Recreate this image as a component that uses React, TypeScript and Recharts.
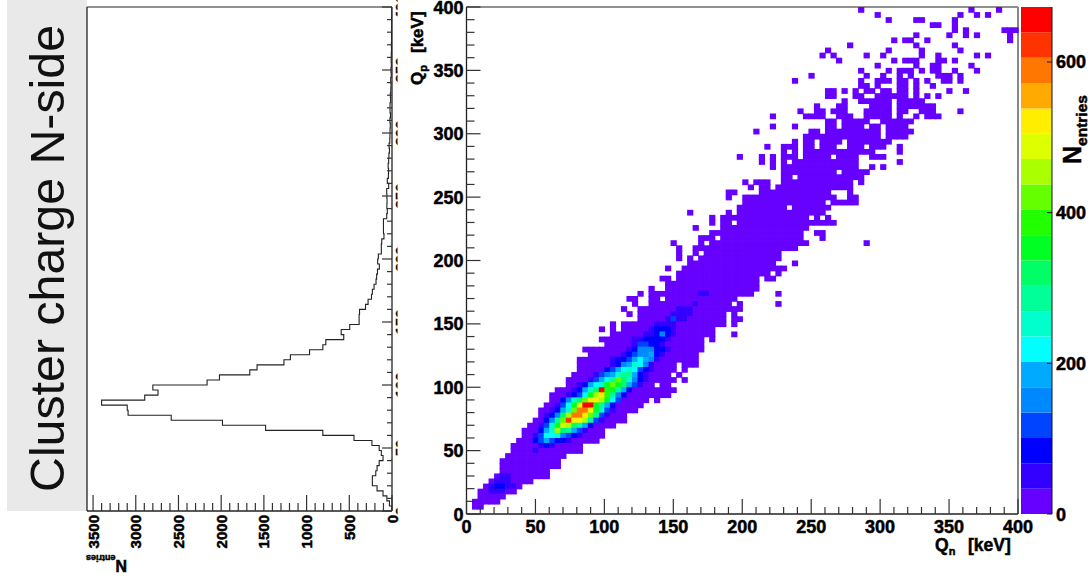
import React from 'react';
import { Bar, BarChart, ReferenceLine, Scatter, ScatterChart, XAxis, YAxis } from 'recharts';

const FONT = "'Liberation Sans', Arial, sans-serif";
const BIN_KEV = 4;
const COUNT_STEP = 33.65;

// ROOT rainbow palette, bottom of the colour bar first
const paletteColors = [
  '#6600ff', '#3300ff', '#0000ff', '#0044ff', '#0088ff', '#00aaff', '#00ffff', '#00ffcc', '#00ff99', '#00ff66',
  '#00ff22', '#22ff00', '#66ff00', '#aaff00', '#ddff00', '#ffee00', '#ffaa00', '#ff7700', '#ff3300', '#ff0000',
];
const paletteSteps = paletteColors.map(() => COUNT_STEP);

// occupied Qn bins for each Qp bin, top row (396-400 keV) first
const occupiedRows = [
  '71 91 96', '74 89 92 94', '76 81-82 88', '84-85 88', '88 90 97-99', '81 87 90 92 98', '77 79-80 83 98',
  '69 81 88', '65 76 82 89', '64 66 72 75 82 85 92 94', '67 77 79-81 85-86 88', '74 81 84-85 91',
  '71 76 78-80 82 84-85 88 92', '62 72 75 78 80 85-87 89', '59 71 74-76 78-79 81 83 86-87 89',
  '71-72 74 78-79 81 84', '65-66 68 70 72-73 75-76 78-79 81 87 90', '65-66 70-71 74-79 81 83 85',
  '68 71-76 78-82', '63 67-68 73-76 78-84', '60 63-64 66-68 72-76 78-79 82-84 89',
  '55 61-64 67-69 72-76 78 81 83-85', '65-66 68-72 75-80', '55 59 65-66 68-71 73-74 76-79',
  '52 62-63 65-74 76-80', '61-74 76-79', '59 61-62 64-67 69-76', '54 57-59 61-62 64-66 69-71 73-75 78',
  '57 59 61-73 78', '49 53 55 57-59 61-65 67-70 73-75', '53 55 57 59-70 78', '55 57-70 73 75',
  '57-66 68-72', '57-58 60-71', '50 52-54 57-69 71', '51 53-54 56-69', '47-48 53-65 69', '47 50-66 69-70',
  '50-64 66-70', '49-57 59-65', '40 47 49-64', '44 46-61 63 65', '44 46-47 49-66', '41 46-61', '44-60 63-64',
  '42-44 46-60 64', '37 42 44-61 72', '38 41-59', '38 41 43-56', '38 40 42-56', '40-55 59', '36 39-57',
  '38-54 56', '35-36 38-52 54-55', '36-52', '33 36-52', '31 33-51 56', '29-30 33-34 36-48', '30 33-47 49 56',
  '28 31-49', '29 31-46 48', '31-46 48-49', '26 28-46 48', '24 26 28-44', '26-44 48', '24-42 44', '25-42',
  '21-42', '22-41', '20-41', '20-37 39-41', '20-37 39', '19-36 38', '18-37 39', '18-33 35-36', '16-37',
  '15-36', '15-32 34', '14-31', '13-30', '13-28', '12-28', '11-26', '10-24', '10-24', '9-23', '8-20', '8-20',
  '7-17', '6-16', '6-16', '6-14', '5-14', '4-11', '3-9', '2-8', '2-6', '1-5', '1-2',
];

// [row from top, first Qn bin, entries...] where the count is above the first colour level
const coreRows = [
  [56, 42, 50, 50], [58, 41, 50], [59, 38, 50, 50, 50], [60, 37, 50, 50, 50, 50],
  [61, 36, 50, 115, 50, 50], [62, 34, 50, 50, 50, 50], [63, 33, 50, 85, 85, 85, 50],
  [64, 32, 50, 50, 85, 150, 85, 50], [65, 30, 50, 50, 85, 85, 85, 85, 50],
  [66, 30, 50, 115, 115, 85, 85, 50], [67, 29, 50, 85, 150, 150, 150, 85, 85, 50],
  [68, 28, 50, 85, 115, 150, 150, 185, 85, 50], [69, 26, 50, 85, 85, 115, 185, 220, 185, 150, 50],
  [70, 26, 50, 85, 150, 185, 250, 220, 150, 50], [71, 25, 85, 115, 185, 220, 250, 220, 115, 85, 50],
  [72, 23, 50, 115, 150, 185, 250, 285, 285, 185, 85, 50],
  [73, 22, 50, 115, 185, 220, 285, 420, 320, 250, 150, 85, 50],
  [74, 20, 50, 85, 185, 220, 250, 350, 420, 350, 320, 185, 115, 50],
  [75, 19, 50, 85, 185, 250, 320, 660, 385, 350, 285, 185, 85],
  [76, 18, 50, 85, 115, 220, 350, 455, 520, 385, 285, 150, 85],
  [77, 17, 85, 150, 250, 320, 420, 490, 520, 455, 350, 220, 115],
  [78, 16, 50, 115, 220, 350, 490, 660, 660, 350, 285, 185, 85],
  [79, 15, 50, 85, 185, 250, 420, 590, 590, 520, 350, 250, 115, 50],
  [80, 14, 50, 85, 150, 320, 455, 590, 590, 520, 420, 285, 115, 50],
  [81, 14, 85, 150, 285, 420, 620, 520, 520, 455, 285, 115, 50],
  [82, 13, 50, 115, 250, 350, 490, 455, 320, 285, 185, 85],
  [83, 13, 85, 185, 250, 455, 320, 285, 185, 115, 50],
  [84, 12, 50, 115, 220, 220, 250, 150, 115, 85, 50],
  [85, 12, 85, 115, 185, 115, 85, 85, 50], [86, 13, 50, 85, 50], [87, 12, 50],
  [92, 6, 50, 50], [93, 5, 50, 50, 50], [94, 4, 50, 85, 85, 50, 50], [95, 4, 50, 50, 50],
];

// Qp projection, entries per 4 keV bin from 0 keV upward
const histCounts = [
  0, 30, 60, 105, 175, 230, 230, 190, 175, 150, 105, 125, 150, 235, 445, 810, 1480, 1985, 2585, 3090,
  3100, 3400, 2895, 2740, 2800, 2165, 2020, 1665, 1580, 1265, 1190, 965, 810, 775, 565, 595, 495, 385, 385, 380,
  310, 280, 240, 230, 210, 187, 180, 170, 148, 168, 160, 125, 125, 120, 94, 100, 100, 100, 62, 55,
  60, 58, 60, 62, 39, 55, 42, 40, 45, 39, 36, 30, 34, 26, 24, 23, 20, 24, 18, 23,
  23, 16, 19, 14, 12, 15, 9, 12, 8, 10, 8, 6, 7, 4, 5, 4, 3, 4, 2, 2,
];

const qpTicks = [
  0, 10, 20, 30, 40, 50, 60, 70, 80, 90, 100, 110, 120, 130, 140, 150, 160, 170, 180, 190, 200,
  210, 220, 230, 240, 250, 260, 270, 280, 290, 300, 310, 320, 330, 340, 350, 360, 370, 380, 390, 400,
];
const entryTicks = [
  0, 100, 200, 300, 400, 500, 600, 700, 800, 900, 1000, 1100, 1200, 1300, 1400, 1500, 1600, 1700, 1800,
  1900, 2000, 2100, 2200, 2300, 2400, 2500, 2600, 2700, 2800, 2900, 3000, 3100, 3200, 3300, 3400, 3500,
];
const barTicks = [0, 200, 400, 600];

const parseBins = (row: string) =>
  row.split(' ').flatMap((part) => {
    const [from, to] = part.split('-').map(Number);
    const bins: number[] = [];
    for (let c = from; c <= (to ?? from); c++) bins.push(c);
    return bins;
  });

const coreLookup = new Map<string, number>();
coreRows.forEach(([t, start, ...counts]) => counts.forEach((n, i) => coreLookup.set(`${t}:${start + i}`, n)));

const cells = occupiedRows.flatMap((row, t) =>
  parseBins(row).map((col) => ({
    qn: (col + 0.5) * BIN_KEV,
    qp: (99 - t + 0.5) * BIN_KEV,
    entries: coreLookup.get(`${t}:${col}`) ?? 10,
  })),
);

const histOutline = histCounts.flatMap((n, i) => [
  { entries: n, qp: i * BIN_KEV },
  { entries: n, qp: (i + 1) * BIN_KEV },
]);

const colorFor = (entries: number) =>
  paletteColors[Math.min(paletteColors.length - 1, Math.floor(entries / COUNT_STEP))];

const CELL_W = 551.5 / 100;
const CELL_H = 507 / 100;

const CellRect = ({ cx, cy, payload }: any) => (
  <rect x={cx - CELL_W / 2} y={cy - CELL_H / 2} width={CELL_W + 0.7} height={CELL_H + 0.7} fill={colorFor(payload.entries)} />
);

// the source is a blurred screenshot, its labels are heavier than plain bold
const heavy = { fontFamily: FONT, fontWeight: 'bold', fill: '#000', stroke: '#000', strokeWidth: 0.5 } as const;

const MainXTick = ({ x, y, payload }: any) => {
  const major = payload.value % 50 === 0;
  return (
    <g>
      <line x1={x} x2={x} y1={y} y2={y - (major ? 15 : 7)} stroke="#333" strokeWidth={1.2} />
      {major && (
        <text x={x} y={y + 19} textAnchor="middle" fontSize={18} {...heavy}>
          {payload.value}
        </text>
      )}
    </g>
  );
};

const MainYTick = ({ x, y, payload }: any) => {
  const major = payload.value % 50 === 0;
  return (
    <g>
      <line x1={x} x2={x + (major ? 14 : 8)} y1={y} y2={y} stroke="#333" strokeWidth={1.2} />
      {major && (
        <text x={x - 3} y={y + 6.5} textAnchor="end" fontSize={18} {...heavy}>
          {payload.value}
        </text>
      )}
    </g>
  );
};

const HistXTick = ({ x, y, payload }: any) => {
  const major = payload.value % 500 === 0;
  return (
    <g>
      <line x1={x} x2={x} y1={y} y2={y - (major ? 16 : 8)} stroke="#333" strokeWidth={1.2} />
      {major && (
        <text transform={`translate(${x + 5.5},${y + 4}) rotate(-90)`} textAnchor="end" fontSize={15} {...heavy}>
          {payload.value}
        </text>
      )}
    </g>
  );
};

// the value labels of this axis are cut off by the picture next to it, only a sliver is left
const HistYTick = ({ x, y, payload }: any) => {
  const major = payload.value % 50 === 0;
  return (
    <g>
      <line x1={x} x2={x - (major ? 10 : 5)} y1={y} y2={y} stroke="#333" strokeWidth={1.2} />
      {major && (
        <svg x={x + 3} y={y - 20} width={2.5} height={40} opacity={0.99}>
          <text transform="translate(10.5,20) rotate(-90)" textAnchor="middle" fontSize={15} {...heavy}>
            {payload.value}
          </text>
        </svg>
      )}
    </g>
  );
};

const BarYTick = ({ x, y, payload }: any) => (
  <g>
    <line x1={x} x2={x - 5} y1={y} y2={y} stroke="#111" strokeWidth={1} />
    <text x={x + 4} y={y + 6.5} fontSize={18} {...heavy}>
      {payload.value}
    </text>
  </g>
);

const place = (left: number, top: number): React.CSSProperties => ({ position: 'absolute', left, top });

export default function App() {
  return (
    <div style={{ position: 'absolute', left: 0, top: 0, width: 1092, height: 576, background: '#fff', overflow: 'hidden' }}>
      <div style={{ ...place(7, 0), width: 80, height: 511, background: '#e9e9e9' }} />

      <div style={place(60, 0)}>
        <ScatterChart width={360} height={576} margin={{ top: 7, right: 0, bottom: 0, left: 27 }}>
          <XAxis
            type="number"
            dataKey="entries"
            domain={[0, 3571]}
            reversed
            ticks={entryTicks}
            interval={0}
            height={65}
            tickSize={0}
            tickMargin={0}
            tick={<HistXTick />}
            axisLine={{ stroke: '#222', strokeWidth: 1.3 }}
            allowDataOverflow
          />
          <YAxis
            type="number"
            dataKey="qp"
            orientation="right"
            domain={[0, 400]}
            ticks={qpTicks}
            interval={0}
            width={28}
            tickSize={0}
            tickMargin={0}
            tick={<HistYTick />}
            axisLine={{ stroke: '#222', strokeWidth: 1.3 }}
            allowDataOverflow
          />
          <ReferenceLine y={400} stroke="#222" strokeWidth={1.2} />
          <ReferenceLine x={3571} stroke="#222" strokeWidth={1.3} />
          <Scatter
            data={histOutline}
            line={{ stroke: '#222', strokeWidth: 1.1 }}
            shape={() => <g />}
            isAnimationActive={false}
          />
        </ScatterChart>
      </div>

      <div style={place(420, 0)}>
        <ScatterChart width={660} height={560} margin={{ top: 7, right: 62, bottom: 0, left: 0 }}>
          <XAxis
            type="number"
            dataKey="qn"
            domain={[0, 400]}
            ticks={qpTicks}
            interval={0}
            height={46}
            tickSize={0}
            tickMargin={0}
            tick={<MainXTick />}
            axisLine={{ stroke: '#222', strokeWidth: 1.3 }}
          />
          <YAxis
            type="number"
            dataKey="qp"
            domain={[0, 400]}
            ticks={qpTicks}
            interval={0}
            width={46.5}
            tickSize={0}
            tickMargin={0}
            tick={<MainYTick />}
            axisLine={{ stroke: '#222', strokeWidth: 1.3 }}
          />
          <Scatter data={cells} shape={<CellRect />} isAnimationActive={false} />
          <ReferenceLine y={400} stroke="#222" strokeWidth={1.2} />
          <ReferenceLine x={400} stroke="#888" strokeWidth={2} />
        </ScatterChart>
      </div>

      <div style={place(1000, 0)}>
        <BarChart
          width={92}
          height={560}
          data={[Object.fromEntries(paletteSteps.map((s, i) => [`level${i}`, s]))]}
          margin={{ top: 7, right: 0, bottom: 46, left: 21 }}
          barCategoryGap={0}
        >
          <XAxis hide />
          <YAxis
            orientation="right"
            domain={[0, COUNT_STEP * paletteColors.length]}
            ticks={barTicks}
            interval={0}
            width={40}
            tickSize={0}
            tickMargin={0}
            tick={<BarYTick />}
            axisLine={{ stroke: '#111', strokeWidth: 1 }}
            allowDataOverflow
          />
          {paletteColors.map((color, i) => (
            <Bar key={color} dataKey={`level${i}`} stackId="palette" fill={color} isAnimationActive={false} />
          ))}
        </BarChart>
      </div>

      <svg width={1092} height={576} style={{ ...place(0, 0), pointerEvents: 'none' }}>
        <text transform="translate(64,492) rotate(-90)" fontFamily={FONT} fontSize={48.3} fill="#111">
          Cluster charge N-side
        </text>
        <text transform="translate(423,85) rotate(-90)" fontSize={17} {...heavy}>
          Q<tspan fontSize={11} dy={4}>p</tspan>
          <tspan x={32} dy={-4}>[keV]</tspan>
        </text>
        <text x={935} y={551} fontSize={17.5} {...heavy}>
          Q<tspan fontSize={11} dy={4}>n</tspan>
          <tspan x={968} dy={-4}>[keV]</tspan>
        </text>
        <text transform="translate(1081,164) rotate(-90)" fontSize={25} {...heavy}>
          N<tspan fontSize={15.5} dy={6}>entries</tspan>
        </text>
        <text transform="translate(127,560) rotate(180)" fontSize={16} {...heavy}>
          N<tspan fontSize={9} dy={5}>entries</tspan>
        </text>
      </svg>
    </div>
  );
}
